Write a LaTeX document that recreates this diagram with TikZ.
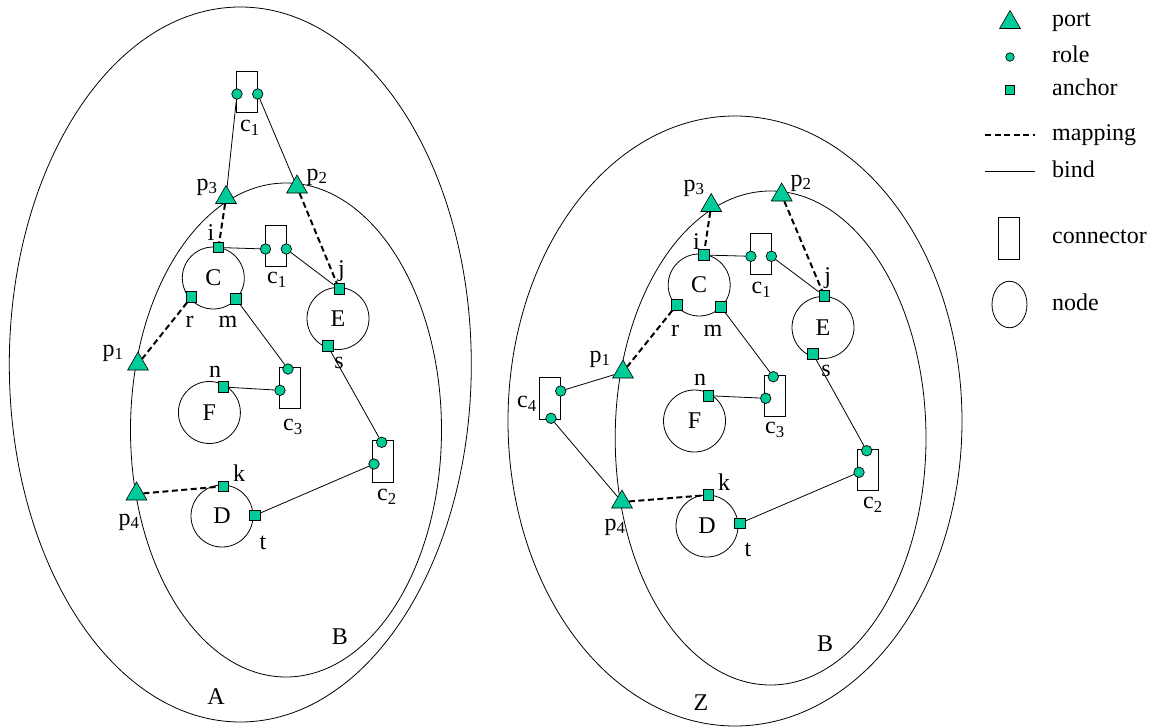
\documentclass[tikz,border=0pt]{standalone}
\usepackage{fontspec}
\setmainfont{Liberation Serif}
\usetikzlibrary{shapes.geometric}

\definecolor{portgreen}{RGB}{0,204,153}

\begin{document}
\begin{tikzpicture}[x=1pt,y=-1pt,
  lbl/.style={inner sep=0pt, font=\fontsize{24}{24}\selectfont},
  port/.style={regular polygon, regular polygon sides=3, minimum size=24pt,
    inner sep=0pt, draw=black, fill=portgreen, line width=0.6pt},
  role/.style={circle, minimum size=10.5pt, inner sep=0pt, draw=black,
    fill=portgreen, line width=0.7pt},
  anchorsq/.style={rectangle, minimum size=10.5pt, inner sep=0pt, draw=black,
    fill=portgreen, line width=0.7pt},
  conn/.style={rectangle, draw, minimum width=21pt, minimum height=41.5pt,
    inner sep=0pt, line width=0.8pt},
  compnode/.style={circle, draw, minimum size=62pt, inner sep=0pt,
    line width=0.8pt, font=\fontsize{24}{24}\selectfont},
  bind/.style={line width=0.8pt},
  mapping/.style={dash pattern=on 6pt off 3.5pt, line width=2pt},
  region/.style={line width=0.8pt},
]
\useasboundingbox (0,0) rectangle (1152,728);

% ---------------- system A ----------------
\draw[region] (240.3,364.5) ellipse [x radius=231pt, y radius=357.5pt];
\draw[region] (286,430) ellipse [x radius=155.5pt, y radius=247pt];
\node[lbl] (aA) at (216,697) {A};
\node[lbl] (aB) at (340,637) {B};

\node[compnode] (aC) at (213.3,278) {C};
\node[compnode] (aE) at (338,318.5) {E};
\node[compnode] (aF) at (209.4,412.5) {F};
\node[compnode] (aD) at (222,516) {D};

\node[conn] (aK1) at (247,92) {};
\node[conn] (aK1i) at (276,246) {};
\node[conn] (aK3) at (289.5,388) {};
\node[conn] (aK2) at (383,461.5) {};

\node[role] (aK1a) at (237,94) {};
\node[role] (aK1b) at (257.7,94) {};
\node[role] (aK1ia) at (265.5,249) {};
\node[role] (aK1ib) at (286.3,249) {};
\node[role] (aK3a) at (288,369) {};
\node[role] (aK3b) at (280,390.3) {};
\node[role] (aK2a) at (381.7,442.3) {};
\node[role] (aK2b) at (374,464) {};

\node[anchorsq] (ai) at (218.5,247.5) {};
\node[anchorsq] (aj) at (339.2,289) {};
\node[anchorsq] (ar) at (191.5,297) {};
\node[anchorsq] (am) at (236,299) {};
\node[anchorsq] (as) at (327.7,346) {};
\node[anchorsq] (an) at (223.3,387) {};
\node[anchorsq] (ak) at (223.3,486.3) {};
\node[anchorsq] (at) at (255,515.3) {};

\node[port] (ap3) at (226,197.5) {};
\node[port] (ap2) at (297,187) {};
\node[port] (ap1) at (138,364) {};
\node[port] (ap4) at (136.5,494) {};

\draw[bind] (aK1a) -- (ap3);
\draw[bind] (aK1b) -- (ap2);
\draw[mapping] (ap3) -- (ai);
\draw[mapping] (ap2) -- (aj);
\draw[bind] (ai) -- (aK1ia);
\draw[bind] (aK1ib) -- (aj);
\draw[mapping] (ar) -- (ap1);
\draw[bind] (am) -- (aK3a);
\draw[bind] (an) -- (aK3b);
\draw[bind] (as) -- (aK2a);
\draw[bind] (at) -- (aK2b);
\draw[mapping] (ap4) -- (ak);

\node[lbl] (laK1) at (250,128) {c\textsubscript{1}};
\node[lbl] (lap3) at (207,187) {p\textsubscript{3}};
\node[lbl] (lap2) at (317,177) {p\textsubscript{2}};
\node[lbl] (lai) at (211,233) {i};
\node[lbl] (laK1i) at (277,280) {c\textsubscript{1}};
\node[lbl] (laj) at (341.5,271) {j};
\node[lbl] (lar) at (189.6,322) {r};
\node[lbl] (lam) at (228,322) {m};
\node[lbl] (las) at (339,363) {s};
\node[lbl] (lap1) at (113,353) {p\textsubscript{1}};
\node[lbl] (lan) at (215,372) {n};
\node[lbl] (laK3) at (293,427) {c\textsubscript{3}};
\node[lbl] (laK2) at (387,497) {c\textsubscript{2}};
\node[lbl] (lak) at (239,473) {k};
\node[lbl] (lap4) at (129,522) {p\textsubscript{4}};
\node[lbl] (lat) at (263,543) {t};

% ---------------- system Z ----------------
\draw[region] (735,421) ellipse [x radius=227pt, y radius=305pt];
\draw[region] (770.6,438) ellipse [x radius=155.4pt, y radius=247pt];
\node[lbl] (zZ) at (701,703) {Z};
\node[lbl] (zB) at (825,644) {B};

\node[compnode] (zC) at (699.2,285) {C};
\node[compnode] (zE) at (823,327.5) {E};
\node[compnode] (zF) at (694.5,421) {F};
\node[compnode] (zD) at (707,526) {D};

\node[conn] (zK1) at (761.2,253.8) {};
\node[conn] (zK3) at (774.9,395.9) {};
\node[conn] (zK2) at (868.3,469.7) {};
\node[conn] (zK4) at (550,398.3) {};

\node[role] (zK1a) at (750.9,256.3) {};
\node[role] (zK1b) at (771.4,256.3) {};
\node[role] (zK3a) at (773.3,376.7) {};
\node[role] (zK3b) at (765.7,398.3) {};
\node[role] (zK2a) at (866.7,450.7) {};
\node[role] (zK2b) at (859,472.3) {};
\node[role] (zK4a) at (560.7,391) {};
\node[role] (zK4b) at (551,418.3) {};

\node[anchorsq] (zi) at (703.8,255) {};
\node[anchorsq] (zj) at (824.3,296) {};
\node[anchorsq] (zr) at (676.7,305) {};
\node[anchorsq] (zm) at (721,307) {};
\node[anchorsq] (zs) at (813,354) {};
\node[anchorsq] (zn) at (708.3,395.7) {};
\node[anchorsq] (zk) at (708.3,495) {};
\node[anchorsq] (zt) at (740,523.3) {};

\node[port] (zp3) at (711.2,205.5) {};
\node[port] (zp2) at (781.7,195) {};
\node[port] (zp1) at (623,372) {};
\node[port] (zp4) at (622,502) {};

\draw[mapping] (zp3) -- (zi);
\draw[mapping] (zp2) -- (zj);
\draw[bind] (zi) -- (zK1a);
\draw[bind] (zK1b) -- (zj);
\draw[mapping] (zr) -- (zp1);
\draw[bind] (zm) -- (zK3a);
\draw[bind] (zn) -- (zK3b);
\draw[bind] (zs) -- (zK2a);
\draw[bind] (zt) -- (zK2b);
\draw[mapping] (zp4) -- (zk);
\draw[bind] (zK4a) -- (zp1);
\draw[bind] (zK4b) -- (zp4);

\node[lbl] (lzp3) at (694,188) {p\textsubscript{3}};
\node[lbl] (lzp2) at (801,183) {p\textsubscript{2}};
\node[lbl] (lzi) at (696.5,241.4) {i};
\node[lbl] (lzK1) at (761.5,290) {c\textsubscript{1}};
\node[lbl] (lzj) at (827.6,278) {j};
\node[lbl] (lzr) at (675,331) {r};
\node[lbl] (lzm) at (713,331) {m};
\node[lbl] (lzs) at (826,371.4) {s};
\node[lbl] (lzp1) at (600,359) {p\textsubscript{1}};
\node[lbl] (lzK4) at (527,404) {c\textsubscript{4}};
\node[lbl] (lzn) at (700,380) {n};
\node[lbl] (lzK3) at (775,430) {c\textsubscript{3}};
\node[lbl] (lzK2) at (873,505) {c\textsubscript{2}};
\node[lbl] (lzk) at (724,482) {k};
\node[lbl] (lzp4) at (615,527) {p\textsubscript{4}};
\node[lbl] (lzt) at (748,550) {t};

% ---------------- legend ----------------
\node[port] (lgPort) at (1010,22.5) {};
\node[role, minimum size=8.5pt] (lgRole) at (1010,57) {};
\node[anchorsq, minimum size=8.5pt] (lgAnchor) at (1010,90) {};
\coordinate (lgMapA) at (985,134.6);
\coordinate (lgMapB) at (1034.5,134.6);
\draw[mapping] (lgMapA) -- (lgMapB);
\coordinate (lgBindA) at (985,171.8);
\coordinate (lgBindB) at (1034.5,171.8);
\draw[bind] (lgBindA) -- (lgBindB);
\node[conn] (lgConn) at (1009.3,238.2) {};
\node[ellipse, draw, line width=0.8pt, minimum width=35pt, minimum height=46.5pt,
  inner sep=0pt] (lgNode) at (1009.5,304.5) {};

\node[lbl, anchor=base west] (tPort) at (1052,26) {port};
\node[lbl, anchor=base west] (tRole) at (1052,62) {role};
\node[lbl, anchor=base west] (tAnchor) at (1052,95.5) {anchor};
\node[lbl, anchor=base west] (tMap) at (1052,140) {mapping};
\node[lbl, anchor=base west] (tBind) at (1052,177) {bind};
\node[lbl, anchor=base west] (tConn) at (1052,243.5) {connector};
\node[lbl, anchor=base west] (tNode) at (1052,310) {node};
\end{tikzpicture}
\end{document}
